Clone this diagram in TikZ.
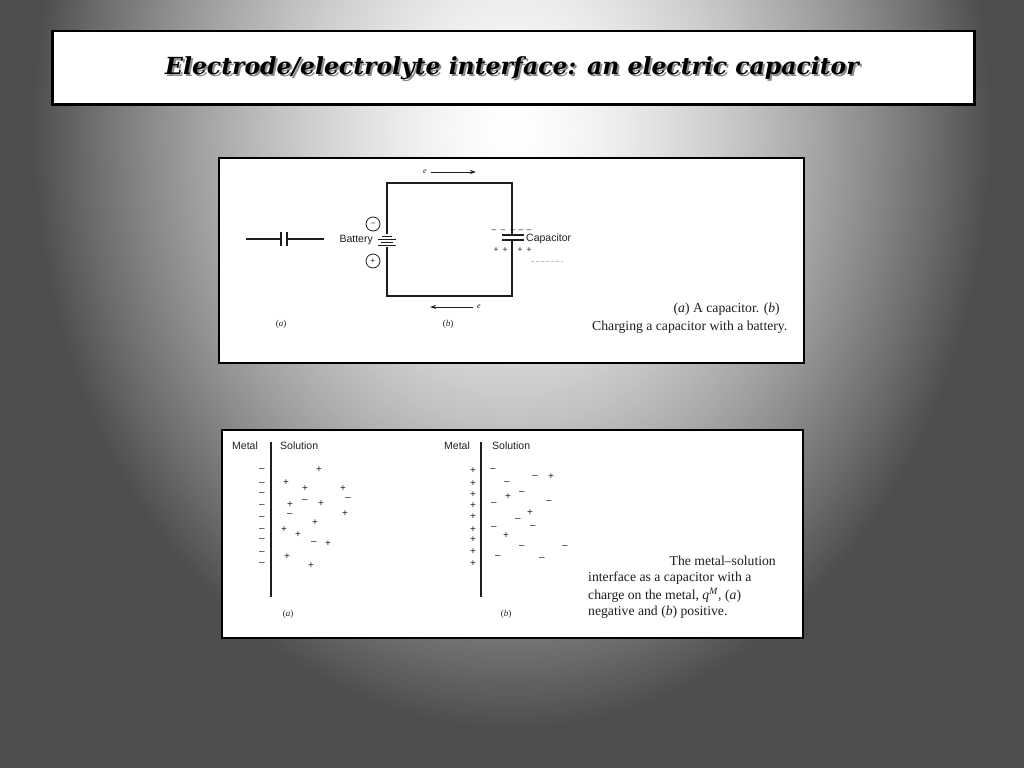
\documentclass[tikz,border=0pt]{standalone}
\usepackage{fontspec}
\setmainfont{Liberation Serif}
\setsansfont{Liberation Sans}
\newfontfamily\titlefont{DejaVu Serif}
\usetikzlibrary{arrows.meta}
\definecolor{bgdark}{RGB}{78,78,78}
\definecolor{ink}{RGB}{30,30,30}
\begin{document}
\begin{tikzpicture}[x=1pt,y=-1pt,
  panel/.style={draw=black, line width=2pt, fill=white, inner sep=0pt},
  wire/.style={draw=ink, line width=1.1pt},
  thinwire/.style={draw=ink, line width=0.8pt},
  lbl/.style={font=\sffamily\fontsize{10.5}{12}\selectfont, inner sep=0pt, text=ink},
  captext/.style={font=\fontsize{13.7}{16}\selectfont, inner sep=0pt, text=ink},
  sublbl/.style={font=\fontsize{9}{10}\selectfont, inner sep=0pt, text=ink},
  elbl/.style={font=\itshape\fontsize{8}{8}\selectfont, inner sep=0pt, text=ink},
  chg/.style={font=\sffamily\fontsize{10}{10}\selectfont, inner sep=0pt, text=ink},
  schg/.style={font=\sffamily\fontsize{8.5}{8}\selectfont, inner sep=0pt, text=ink},
  arr/.style={draw=ink, line width=0.9pt, -{Stealth[length=6pt,width=4pt]}},
]
\useasboundingbox (0,0) rectangle (1024,768);
% background: dark grey with a soft light spot
\fill[bgdark] (0,0) rectangle (1024,768);
\begin{scope}
\clip (0,0) rectangle (1024,768);
\foreach \i in {0,...,159}{
  \pgfmathsetmacro\f{1-\i/160}
  \pgfmathsetmacro\p{100*(1-\f*sqrt(\f))}
  \fill[white!\p!bgdark] (512,130) ellipse [x radius={480*\f}, y radius={600*\f}];
}
\end{scope}

% title
\fill[black, opacity=0.35] (54,33) rectangle (976,106);
\node[panel, line width=2.5pt, minimum width=922pt, minimum height=73pt, anchor=north west] (titlebox) at (51,30) {};
\node[text=black!45, font=\titlefont\bfseries\itshape\fontsize{23.5}{26}\selectfont] (titleshadow) at (514,70) {Electrode/electrolyte interface: an electric capacitor};
\node[text=black, font=\titlefont\bfseries\itshape\fontsize{23.5}{26}\selectfont] (title) at (512,68) {Electrode/electrolyte interface: an electric capacitor};

% panels
\node[panel, minimum width=585pt, minimum height=205pt, anchor=north west] (toppanel) at (218,157) {};
\node[panel, minimum width=581pt, minimum height=208pt, anchor=north west] (botpanel) at (221,429) {};

% ---------- top panel (a): capacitor symbol
\coordinate (aL) at (246,239);
\coordinate (aP1) at (281,239);
\coordinate (aP2) at (287,239);
\coordinate (aR) at (324,239);
\draw[wire] (aL) -- (aP1);
\draw[wire] (aP2) -- (aR);
\draw[wire] (281,232) -- (281,246);
\draw[wire] (287,232) -- (287,246);

% ---------- top panel (b): circuit
\coordinate (tl) at (387,183);
\coordinate (tr) at (512,183);
\coordinate (br) at (512,296);
\coordinate (bl) at (387,296);
\coordinate (batT) at (387,234);
\coordinate (batB) at (387,247);
\coordinate (capT) at (512,235);
\coordinate (capB) at (512,240);
\draw[wire] (batT) -- (tl) -- (tr) -- (capT);
\draw[wire] (capB) -- (br) -- (bl) -- (batB);
% battery cells
\draw[thinwire] (382,236) -- (392,236);
\draw[thinwire] (378,239) -- (396,239);
\draw[thinwire] (381,242) -- (393,242);
\draw[thinwire] (378,245) -- (396,245);
% capacitor plates
\draw[wire] (502,235) -- (524,235);
\draw[wire] (502,240) -- (524,240);
% terminals
\node[circle, draw=ink, line width=0.8pt, minimum size=14pt, inner sep=0pt, font=\sffamily\fontsize{8}{8}\selectfont, text=ink] (neg) at (373,224) {–};
\node[circle, draw=ink, line width=0.8pt, minimum size=14pt, inner sep=0pt, font=\sffamily\fontsize{8}{8}\selectfont, text=ink] (pos) at (373,261) {+};
\node[lbl, anchor=east] (battery) at (373,240) {Battery};
\node[lbl, anchor=west] (capacitor) at (526,239) {Capacitor};
% plate charges
\foreach \x [count=\i] in {494,503,513,521,529} \node[schg] (tm\i) at (\x,231) {–};
\foreach \x [count=\i] in {496,505,520,529} \node[schg] (tp\i) at (\x,250) {+};
\draw[black!25, line width=0.6pt, dash pattern=on 3pt off 2pt] (531,261) -- (563,261);
% electron arrows
\node[elbl] (e1) at (425,172) {e};
\coordinate (e1end) at (476,172);
\draw[arr] ([xshift=4pt]e1.east) -- (e1end);
\node[elbl] (e2) at (479,307) {e};
\coordinate (e2end) at (430,307);
\draw[arr] ([xshift=-4pt]e2.west) -- (e2end);
% sub labels
\node[sublbl] (la) at (281,324) {(\textit{a})};
\node[sublbl] (lb) at (448,324) {(\textit{b})};
% caption
\node[captext, anchor=east] (capt1) at (780,309) {(\textit{a}) A capacitor. (\textit{b})};
\node[captext, anchor=west] (capt2) at (592,327) {Charging a capacitor with a battery.};

% ---------- bottom panel (a)
\node[lbl, anchor=west] (metalA) at (232,446) {Metal};
\node[lbl, anchor=west] (solA) at (280,446) {Solution};
\coordinate (ifA1) at (271,442);
\coordinate (ifA2) at (271,597);
\draw[wire] (ifA1) -- (ifA2);
\foreach \y [count=\i] in {470,484,494,506,518,530,540,553,564} \node[chg] (ma\i) at (262,\y) {–};
\foreach \x/\y/\s [count=\i] in {319/470/+, 286/483/+, 305/489/+, 343/489/+, 348/499/–, 305/501/–, 290/505/+, 321/504/+, 290/515/–, 345/514/+, 315/523/+, 284/530/+, 298/535/+, 314/543/–, 328/544/+, 287/557/+, 311/566/+}
  \node[chg] (sa\i) at (\x,\y) {\s};
\node[sublbl] (subA) at (288,614) {(\textit{a})};

% ---------- bottom panel (b)
\node[lbl, anchor=west] (metalB) at (444,446) {Metal};
\node[lbl, anchor=west] (solB) at (492,446) {Solution};
\coordinate (ifB1) at (481,442);
\coordinate (ifB2) at (481,597);
\draw[wire] (ifB1) -- (ifB2);
\foreach \y [count=\i] in {471,484,495,506,517,530,540,552,564} \node[chg] (mb\i) at (473,\y) {+};
\foreach \x/\y/\s [count=\i] in {493/470/–, 507/483/–, 535/477/–, 551/477/+, 522/493/–, 508/497/+, 494/504/–, 549/502/–, 530/513/+, 518/520/–, 494/528/–, 533/527/–, 506/536/+, 522/547/–, 565/547/–, 498/557/–, 542/559/–}
  \node[chg] (sb\i) at (\x,\y) {\s};
\node[sublbl] (subB) at (506,614) {(\textit{b})};

% caption
\node[captext, anchor=east] (bc1) at (776,561) {The metal–solution};
\node[captext, anchor=west] (bc2) at (588,578) {interface as a capacitor with a};
\node[captext, anchor=west] (bc3) at (588,595) {charge on the metal, \textit{q}\textsuperscript{\textit{M}}, (\textit{a})};
\node[captext, anchor=west] (bc4) at (588,612) {negative and (\textit{b}) positive.};
\end{tikzpicture}
\end{document}
